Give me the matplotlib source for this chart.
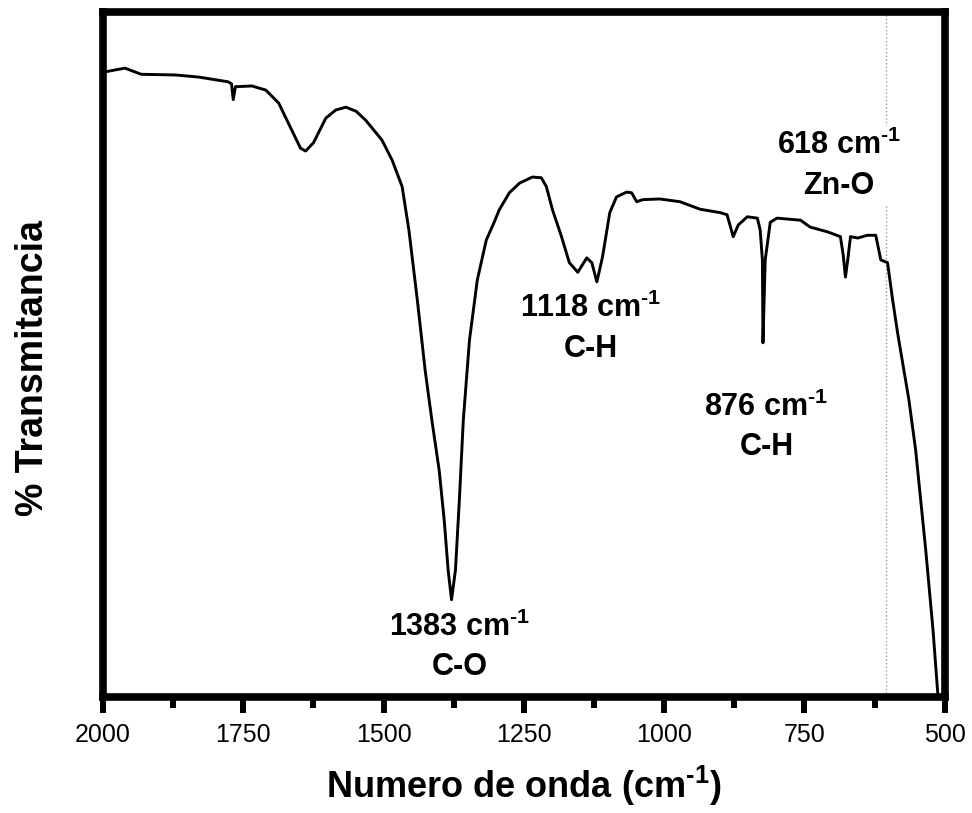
"""FTIR spectrum (ZnO) - % transmittance vs wavenumber."""

import matplotlib
matplotlib.use("Agg")
import matplotlib.pyplot as plt
from matplotlib.ticker import MultipleLocator

plt.rcParams["font.family"] = ["Liberation Sans", "DejaVu Sans"]
plt.rcParams["mathtext.fontset"] = "custom"
plt.rcParams["mathtext.rm"] = "Liberation Sans:bold"
plt.rcParams["mathtext.it"] = "Liberation Sans:bold"
plt.rcParams["mathtext.bf"] = "Liberation Sans:bold"

# spectrum (cm-1, % transmittance on an arbitrary 0-100 scale)
wavenumber = [
    2000, 1961, 1932, 1871, 1830, 1777, 1771, 1768, 1764, 1759, 1735, 1710,
    1687, 1664, 1648, 1639, 1625, 1603, 1585, 1567, 1549, 1532, 1503, 1485,
    1467, 1455, 1440, 1426, 1414, 1401, 1392, 1385, 1379, 1372, 1365, 1358,
    1347, 1333, 1317, 1303, 1294, 1276, 1258, 1235, 1219, 1210, 1199, 1183,
    1169, 1154, 1138, 1129, 1120, 1110, 1097, 1085, 1067, 1058, 1049, 1038,
    1008, 972, 936, 900, 888, 877, 868, 852, 834, 829, 825, 824, 820, 811,
    799, 757, 740, 709, 686, 681, 677, 673, 668, 655, 638, 623, 614, 602,
    593, 584, 564, 552, 534, 521, 512,
]
transmittance = [
    91.2, 91.8, 90.9, 90.8, 90.5, 89.8, 89.5, 87.2, 89.1, 89.1, 89.2, 88.6,
    86.7, 82.8, 80.1, 79.7, 80.9, 84.5, 85.7, 86.1, 85.5, 84.2, 81.3, 78.4,
    74.5, 68.2, 58.0, 47.7, 40.4, 33.1, 25.8, 18.5, 14.2, 18.5, 28.8, 40.4,
    52.1, 60.9, 66.7, 69.3, 71.1, 73.6, 75.0, 75.9, 75.8, 74.5, 71.1, 67.2,
    63.4, 62.0, 64.1, 63.4, 60.6, 64.2, 70.7, 73.0, 73.7, 73.6, 72.3, 72.6,
    72.7, 72.3, 71.2, 70.7, 70.4, 67.2, 68.9, 70.1, 69.9, 68.2, 63.8, 51.7,
    63.8, 69.3, 69.9, 69.6, 68.6, 67.9, 67.2, 64.5, 61.3, 63.8, 67.2, 67.0,
    67.4, 67.4, 63.8, 63.4, 58.0, 53.1, 43.4, 36.1, 21.5, 9.8, 0.0,
]

# band labels: (text, x, y) - block centre
band_labels = [
    (r"1383 cm$^{\text{-1}}$" + "\nC-O", 1365, 7.3),
    (r"1118 cm$^{\text{-1}}$" + "\nC-H", 1131, 53.8),
    (r"876 cm$^{\text{-1}}$" + "\nC-H", 818, 39.4),
]
zno_label = r"618 cm$^{\text{-1}}$" + "\nZn-O"
zno_pos = (689, 77.6)
zno_line = 605

fig = plt.figure(figsize=(9.72, 8.13), dpi=100)
ax = fig.add_axes([0.106, 0.1427, 0.866, 0.8426])

ax.axvline(zno_line, color="#999999", linestyle=":", linewidth=1.0, zorder=1)
ax.plot(wavenumber, transmittance, color="black", linewidth=2.1, zorder=3)

for text, x, y in band_labels:
    ax.text(x, y, text, ha="center", va="center", fontsize=22,
            fontweight="bold", multialignment="center", linespacing=1.4)

ax.text(zno_pos[0], zno_pos[1], zno_label, ha="center", va="center",
        fontsize=22, fontweight="bold", multialignment="center",
        linespacing=1.4,
        bbox=dict(facecolor="white", edgecolor="none", pad=3), zorder=2)

ax.set_xlim(2000, 500)
ax.set_ylim(0, 100)
ax.xaxis.set_major_locator(MultipleLocator(250))
ax.xaxis.set_minor_locator(MultipleLocator(125))
ax.set_yticks([])

for side in ax.spines.values():
    side.set_linewidth(5.5)

ax.tick_params(axis="x", which="major", direction="out", length=11.5,
               width=4.3, labelsize=18, pad=7)
ax.tick_params(axis="x", which="minor", direction="out", length=8, width=4.3)

ax.set_xlabel(r"Numero de onda (cm$^{\text{-1}}$)", fontsize=26,
              fontweight="bold", labelpad=12)
ax.set_ylabel("% Transmitancia", fontsize=27, fontweight="bold")
ax.yaxis.set_label_coords(-0.062, 0.48)

fig.savefig("out.png", dpi=100)
